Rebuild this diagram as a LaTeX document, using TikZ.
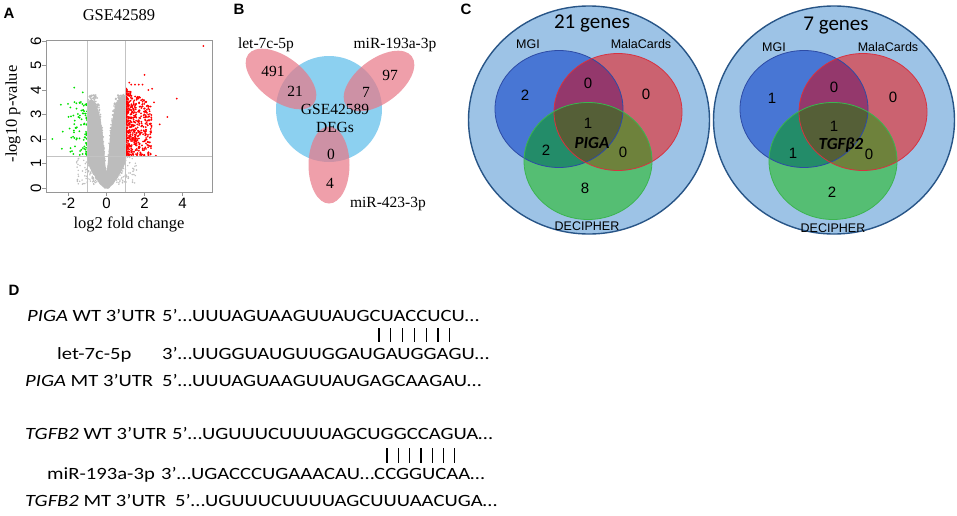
\documentclass[tikz,border=0pt]{standalone}
\usepackage{fontspec}
\setmainfont{Liberation Serif}
\newfontfamily\arial{Liberation Sans}
\newfontfamily\calib{Carlito}
\newfontfamily\calibw[FakeStretch=1.2]{Carlito}
\newcommand\myfs[1]{\fontsize{#1}{#1}\selectfont}
\definecolor{ptgray}{RGB}{188,188,188}
\definecolor{ptred}{RGB}{255,0,0}
\definecolor{ptgreen}{RGB}{0,225,0}
\definecolor{axgray}{RGB}{150,150,150}
\definecolor{thrgray}{RGB}{195,195,195}
\definecolor{bblue}{RGB}{140,208,240}
\definecolor{bpink}{RGB}{233,119,134}
\definecolor{outfill}{RGB}{157,195,230}
\definecolor{outdraw}{RGB}{40,85,135}
\definecolor{cB}{RGB}{72,118,212}
\definecolor{cR}{RGB}{203,98,112}
\definecolor{cBR}{RGB}{148,56,108}
\definecolor{cG}{RGB}{85,190,115}
\definecolor{cGB}{RGB}{35,140,105}
\definecolor{cGR}{RGB}{110,130,60}
\definecolor{cAll}{RGB}{85,95,55}
\definecolor{dB}{RGB}{45,75,165}
\definecolor{dR}{RGB}{215,50,65}
\definecolor{dG}{RGB}{60,180,80}
\tikzset{
  panel/.style={font=\arial\bfseries\myfs{15}, inner sep=0pt},
  ticklab/.style={font=\arial\myfs{15}, inner sep=0pt},
  axlab/.style={font=\myfs{16.5}, inner sep=0pt},
  vtxt/.style={font=\myfs{15.5}, inner sep=0pt},
  genes/.style={font=\calib\myfs{21}, inner sep=0pt},
  dbname/.style={font=\arial\myfs{12.5}, inner sep=0pt},
  vnum/.style={font=\arial\myfs{15}, inner sep=0pt},
  gene/.style={font=\calib\bfseries\itshape\myfs{17}, inner sep=0pt},
  seqt/.style={font=\calibw\myfs{17.2}, inner sep=0pt, anchor=base west},
  axline/.style={draw=axgray, line width=0.9pt},
  thr/.style={draw=thrgray, line width=0.8pt},
  pair/.style={draw=black, line width=1.3pt},
}
\newcommand\vennC[2]{%
  \fill[outfill] (#1,#2) ellipse (120.5 and 114);
  \draw[outdraw, line width=1.4pt] (#1,#2) ellipse (120.5 and 114);
  \fill[cB] ({#1-30},{#2-11}) ellipse (64 and 58.5);
  \fill[cR] ({#1+29},{#2-8}) ellipse (64 and 58.5);
  \begin{scope}
    \clip ({#1-30},{#2-11}) ellipse (64 and 58.5);
    \fill[cBR] ({#1+29},{#2-8}) ellipse (64 and 58.5);
  \end{scope}
  \fill[cG] ({#1-1},{#2+41}) ellipse (64 and 58.5);
  \begin{scope}
    \clip ({#1-1},{#2+41}) ellipse (64 and 58.5);
    \fill[cGB] ({#1-30},{#2-11}) ellipse (64 and 58.5);
    \fill[cGR] ({#1+29},{#2-8}) ellipse (64 and 58.5);
    \clip ({#1-30},{#2-11}) ellipse (64 and 58.5);
    \fill[cAll] ({#1+29},{#2-8}) ellipse (64 and 58.5);
  \end{scope}
  \draw[dB, line width=0.8pt] ({#1-30},{#2-11}) ellipse (64 and 58.5);
  \draw[dR, line width=0.8pt] ({#1+29},{#2-8}) ellipse (64 and 58.5);
  \draw[dG, line width=0.8pt] ({#1-1},{#2+41}) ellipse (64 and 58.5);
}
\begin{document}
\begin{tikzpicture}[x=1pt,y=-1pt]
\useasboundingbox (0,0) rectangle (957,515);
\fill[white] (0,0) rectangle (957,515);

% ---------- Panel A ----------
\node[panel] (pA) at (9,13) {A};
\node[axlab] (titA) at (119,15) {GSE42589};
\begin{scope}[shift={(106.5,188)}, x=19pt, y=24.5pt]
\pgfmathsetseed{4242}
% dense gray core of the volcano
\fill[ptgray] (-0.1,0) -- (-0.35,0.15) -- (-0.55,0.4) -- (-0.8,0.7) -- (-0.98,1.0)
  -- (-0.98,3.4) -- (-0.9,3.58) -- (-0.75,3.6) -- (-0.58,3.45) -- (-0.42,3.15)
  -- (-0.3,2.75) -- (-0.2,2.2) -- (-0.12,1.5) -- (-0.06,0.95) -- (0,0.65)
  -- (0.06,0.95) -- (0.12,1.5) -- (0.2,2.2) -- (0.3,2.75) -- (0.42,3.2)
  -- (0.58,3.55) -- (0.75,3.75) -- (0.9,3.85) -- (0.98,3.7) -- (0.98,1.0)
  -- (0.8,0.7) -- (0.55,0.4) -- (0.35,0.15) -- (0.1,0) -- cycle;
% ragged gray points
\foreach \i in {1,...,900}{
  \pgfmathsetmacro\yy{3.8*pow(rnd,1.1)}
  \pgfmathsetmacro\ein{0.05*\yy+0.006*\yy*\yy*\yy}
  \pgfmathsetmacro\eout{min(0.12+0.85*\yy,1.0)}
  \pgfmathsetmacro\mm{\ein+rnd*(\eout-\ein)}
  \pgfmathsetmacro\sg{rnd<0.5 ? -1 : 1}
  \fill[ptgray] ({\sg*\mm},\yy) circle[radius=0.9pt];
}
\foreach \i in {1,...,220}{
  \pgfmathsetmacro\yy{0.15+1.15*rnd}
  \pgfmathsetmacro\mm{0.5+1.1*pow(rnd,2)}
  \pgfmathsetmacro\sg{rnd<0.5 ? -1 : 1}
  \fill[ptgray] ({\sg*\mm},\yy) circle[radius=0.8pt];
}
% red points
\foreach \i in {1,...,560}{
  \pgfmathsetmacro\xx{1.02+1.35*pow(rnd,2.0)}
  \pgfmathsetmacro\yy{1.33+(2.75-0.5*(\xx-1))*pow(rnd,1.1)}
  \fill[ptred] (\xx,\yy) circle[radius=1pt];
}
\foreach \xx/\yy in {2.6/1.32,3.2/2.9,3.7/3.65,5.1/5.8,2.0/4.62,2.5/3.5,2.4/4.05,1.2/4.3,1.3/4.22,1.5/4.22,1.7/4.22,1.9/4.22,2.2/4.0,2.8/2.6,2.3/2.2}{
  \fill[ptred] (\xx,\yy) circle[radius=1pt];
}
% green points
\foreach \i in {1,...,85}{
  \pgfmathsetmacro\xx{-1.03-1.0*pow(rnd,2)}
  \pgfmathsetmacro\yy{1.33+2.2*rnd}
  \fill[ptgreen] (\xx,\yy) circle[radius=1pt];
}
\foreach \xx/\yy in {-2.4/3.4,-2.85/2.0,-2.35/1.6,-1.7/4.1,-1.25/3.9,-2.0/2.9,-2.3/2.3}{
  \fill[ptgreen] (\xx,\yy) circle[radius=1pt];
}
\end{scope}
% thresholds
\draw[thr] (87.5,40) -- (87.5,192);
\draw[thr] (125.5,40) -- (125.5,192);
\draw[thr] (46,156) -- (212,156);
% axes box
\draw[axline] (46,40) rectangle (212,192);
\foreach \v in {-2,0,2,4}{
  \draw[axline] ({106.5+19*\v},192) -- ({106.5+19*\v},196);
  \node[ticklab] (xt\v) at ({106.5+19*\v},203) {\v};
}
\foreach \v in {0,...,6}{
  \draw[axline] (46,{188-24.5*\v}) -- (42,{188-24.5*\v});
  \node[ticklab, rotate=90] (yt\v) at (36,{188-24.5*\v}) {\v};
}
\node[axlab] (xlabA) at (129,224) {log2 fold change};
\node[axlab, rotate=90] (ylabA) at (13,114) {-log10 p-value};

% ---------- Panel B ----------
\node[panel] (pB) at (239,9) {B};
\fill[bblue] (329,109) circle (53);
\fill[bpink, opacity=0.7, rotate around={-37:(281,79)}] (281,79) ellipse (41 and 22);
\fill[bpink, opacity=0.7, rotate around={37:(379,81)}] (379,81) ellipse (41 and 22);
\fill[bpink, opacity=0.7] (329,165) ellipse (20.5 and 38.5);
\node[vtxt] (let7) at (266,45) {let-7c-5p};
\node[vtxt] (mir193) at (395,45) {miR-193a-3p};
\node[vtxt] (mir423) at (388,204) {miR-423-3p};
\node[vtxt] (n491) at (273,71) {491};
\node[vtxt] (n21) at (295,91) {21};
\node[vtxt] (n97) at (390,75) {97};
\node[vtxt] (n7) at (366,92) {7};
\node[vtxt] (gse) at (335,109) {GSE42589};
\node[vtxt] (degs) at (335,127) {DEGs};
\node[vtxt] (n0) at (331,154) {0};
\node[vtxt] (n4) at (330,183) {4};

% ---------- Panel C ----------
\node[panel] (pC) at (466,9) {C};
\vennC{589}{120}
\vennC{834}{120}
\node[genes] (g21) at (592,23) {21 genes};
\node[dbname] (mgi1) at (528,44) {MGI};
\node[dbname] (mala1) at (641,44) {MalaCards};
\node[dbname] (dec1) at (587,226) {DECIPHER};
\node[vnum] (a1) at (525,95) {2};
\node[vnum] (a2) at (588,83) {0};
\node[vnum] (a3) at (646,94) {0};
\node[vnum] (a4) at (588,123) {1};
\node[gene] (piga) at (592,143) {PIGA};
\node[vnum] (a5) at (546,150) {2};
\node[vnum] (a6) at (623,152) {0};
\node[vnum] (a7) at (585,188) {8};
\node[genes] (g7) at (836,26) {7 genes};
\node[dbname] (mgi2) at (774,47) {MGI};
\node[dbname] (mala2) at (888,47) {MalaCards};
\node[dbname] (dec2) at (833,228) {DECIPHER};
\node[vnum] (b1) at (772,98) {1};
\node[vnum] (b2) at (834,87) {0};
\node[vnum] (b3) at (893,97) {0};
\node[vnum] (b4) at (834,126) {1};
\node[gene] (tgfb) at (841,145) {TGFβ2};
\node[vnum] (b5) at (793,153) {1};
\node[vnum] (b6) at (869,154) {0};
\node[vnum] (b7) at (832,192) {2};

% ---------- Panel D ----------
\node[panel] (pD) at (14,290) {D};
\node[seqt] (l1) at (27,321) {\textit{PIGA} WT 3’UTR};
\node[seqt] (s1) at (162,321) {5’…UUUAGUAAGUUAUGCUACCUCU…};
\foreach \k in {0,...,6}{
  \draw[pair] ({379+11.8*\k},328) -- ({379+11.8*\k},342);
}
\node[seqt] (l2) at (57,359) {let-7c-5p};
\node[seqt] (s2) at (162,359) {3’…UUGGUAUGUUGGAUGAUGGAGU…};
\node[seqt] (l3) at (25,386) {\textit{PIGA} MT 3’UTR};
\node[seqt] (s3) at (162,386) {5’…UUUAGUAAGUUAUGAGCAAGAU…};
\node[seqt] (l4) at (25,439) {\textit{TGFB2} WT 3’UTR};
\node[seqt] (s4) at (172,439) {5’…UGUUUCUUUUAGCUGGCCAGUA…};
\foreach \k in {0,...,6}{
  \draw[pair] ({387+11.3*\k},448) -- ({387+11.3*\k},463);
}
\node[seqt] (l5) at (47,479) {miR-193a-3p};
\node[seqt] (s5) at (161,479) {3’…UGACCCUGAAACAU…CCGGUCAA…};
\node[seqt] (l6) at (25,506) {\textit{TGFB2} MT 3’UTR};
\node[seqt] (s6) at (175,506) {5’…UGUUUCUUUUAGCUUUAACUGA…};
\end{tikzpicture}
\end{document}
